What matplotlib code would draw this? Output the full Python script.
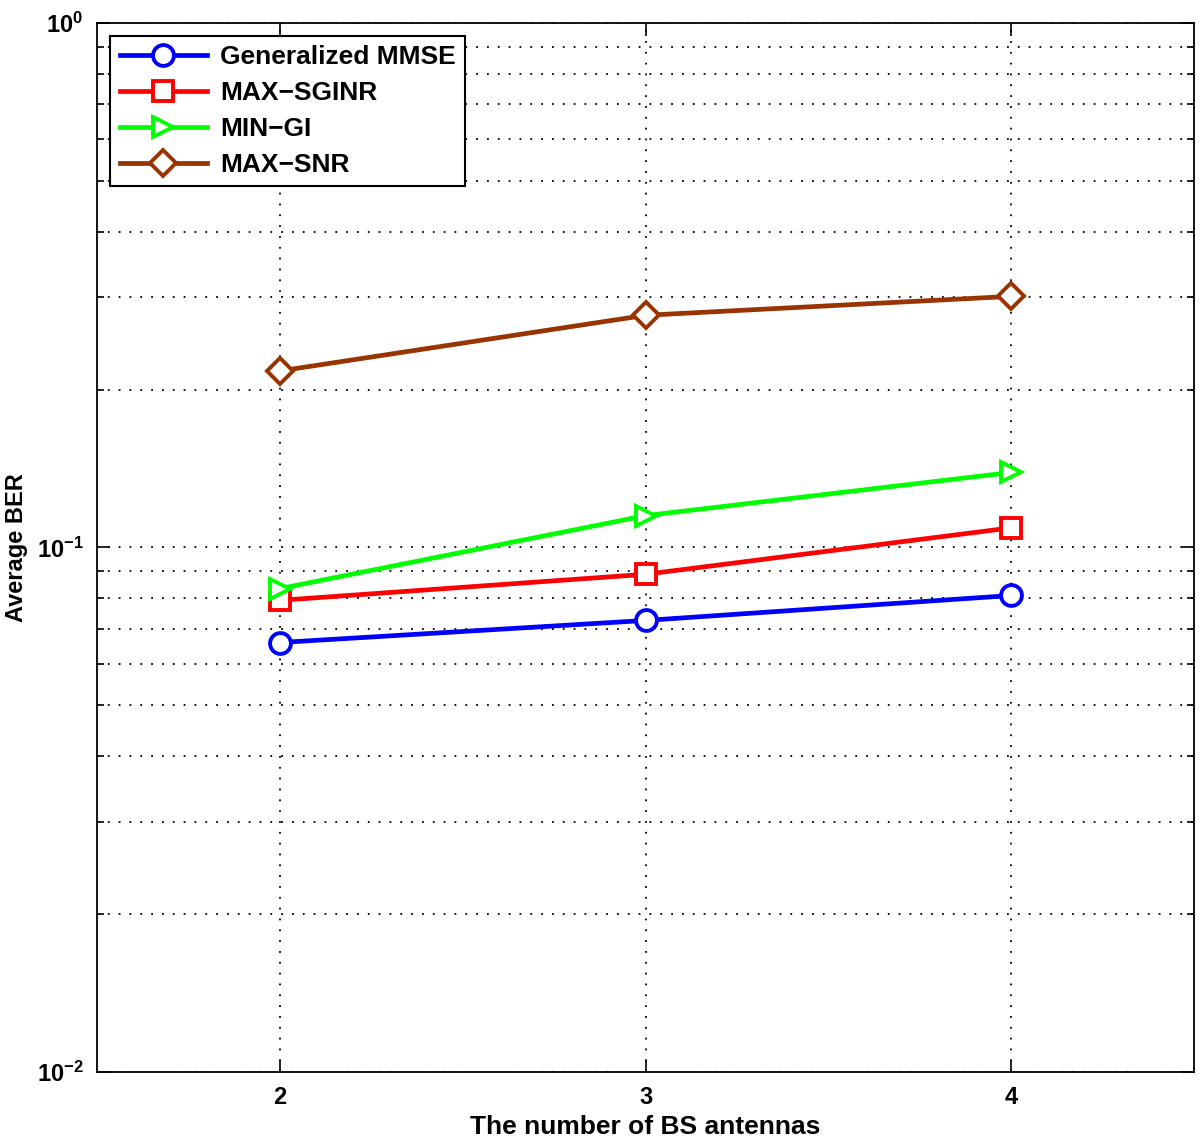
import numpy as np
import matplotlib
matplotlib.use('Agg')
import matplotlib.pyplot as plt

plt.rcParams['font.family'] = ['Liberation Sans', 'DejaVu Sans']
plt.rcParams['font.weight'] = 'bold'

antennas = [2, 3, 4]
ber_mmse = [0.0659, 0.0726, 0.0810]
ber_sginr = [0.0793, 0.0889, 0.109]
ber_mingi = [0.0835, 0.115, 0.139]
ber_snr = [0.217, 0.277, 0.301]

labels = ['Generalized MMSE', 'MAX\u2212SGINR', 'MIN\u2212GI', 'MAX\u2212SNR']
colors = ['#0000ff', '#ff0000', '#00ff00', '#993300']
markers = ['o', 's', '>', 'D']

fig = plt.figure(figsize=(12, 11.37), dpi=100)
ax = fig.add_axes([0.081, 0.057, 0.914, 0.923])

series = [ber_mmse, ber_sginr, ber_mingi, ber_snr]
for vals, lab, col, mk in zip(series, labels, colors, markers):
    ms = 13 if mk == 'D' else 15
    ax.plot(antennas, vals, color=col, lw=3.4, marker=mk, ms=ms,
            mfc='white', mec=col, mew=2.8, label=lab)

ax.set_yscale('log')
ax.set_xlim(1.5, 4.5)
ax.set_ylim(1e-2, 1e0)
ax.set_xticks(antennas)
ax.set_xticklabels([str(a) for a in antennas])

ax.grid(True, which='major', color='black', ls=(0, (1, 5)), lw=1.3)
ax.grid(True, which='minor', axis='y', color='black', ls=(0, (1, 5)), lw=1.3)

ax.tick_params(which='both', direction='in', top=True, right=True,
               labelsize=17, width=1.2)
ax.tick_params(which='major', length=9, pad=10)
ax.tick_params(which='minor', length=5)
for sp in ax.spines.values():
    sp.set_linewidth(1.3)

ax.set_xlabel('The number of BS antennas', fontsize=19, fontweight='bold',
              labelpad=4)
ax.set_ylabel('Average BER', fontsize=17, fontweight='bold', labelpad=6)

leg = ax.legend(loc='upper left', fontsize=19, frameon=True, fancybox=False,
                edgecolor='black', handlelength=3.3, borderaxespad=0.5,
                labelspacing=0.45, handletextpad=0.5, borderpad=0.35)
leg.get_frame().set_linewidth(1.5)
leg.get_frame().set_alpha(1)

fig.savefig('out.png', dpi=100)
